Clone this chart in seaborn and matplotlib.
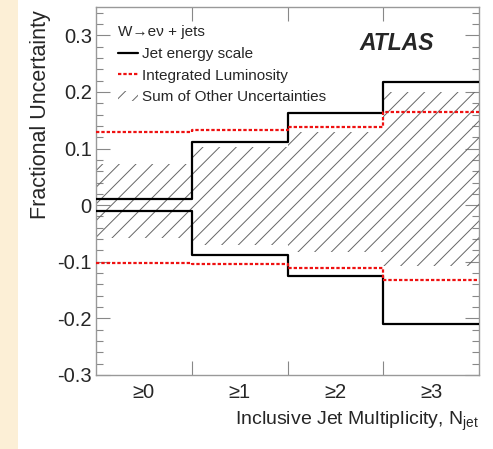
import numpy as np
import pandas as pd
import matplotlib
matplotlib.use("Agg")
import matplotlib.pyplot as plt
import seaborn as sns
from matplotlib.lines import Line2D
from matplotlib.patches import Patch, Rectangle

# ---- data ----
bin_labels = ["≥0", "≥1", "≥2", "≥3"]
bin_edges = [0, 1, 2, 3, 4]
jes_up = [0.010, 0.112, 0.163, 0.218]
jes_down = [-0.011, -0.088, -0.125, -0.210]
lumi_up = [0.129, 0.132, 0.138, 0.165]
lumi_down = [-0.103, -0.104, -0.111, -0.133]
other_up = [0.072, 0.102, 0.130, 0.199]
other_down = [-0.058, -0.070, -0.082, -0.107]

sns.set_theme(style="white")
plt.rcParams["font.family"] = ["Liberation Sans", "DejaVu Sans"]
plt.rcParams["mathtext.fontset"] = "custom"
plt.rcParams["mathtext.rm"] = "Liberation Sans"
plt.rcParams["mathtext.it"] = "Liberation Sans"
plt.rcParams["hatch.linewidth"] = 0.7

fig = plt.figure(figsize=(4.93, 4.49), dpi=100)
fig.patch.set_facecolor("white")
fig.patches.append(Rectangle((0, 0), 18 / 493, 1, transform=fig.transFigure,
                             facecolor="#FCEFD6", edgecolor="none", zorder=0))
ax = fig.add_axes([96 / 493, 1 - 375 / 449, 383 / 493, 368 / 449])
ax.set_facecolor("white")

def ext(v):
    return list(v) + [v[-1]]

# hatched band
ax.fill_between(bin_edges, ext(other_down), ext(other_up), step="post",
                facecolor="none", edgecolor="#666666", hatch="//", linewidth=0, zorder=1)

def step_df(vals, name):
    return pd.DataFrame({"x": bin_edges, "y": ext(vals), "s": name})

for vals in (jes_up, jes_down):
    sns.lineplot(data=step_df(vals, "jes"), x="x", y="y", ax=ax, color="black",
                 linewidth=1.6, drawstyle="steps-post", zorder=3, legend=False)
for vals in (lumi_up, lumi_down):
    sns.lineplot(data=step_df(vals, "lumi"), x="x", y="y", ax=ax, color="#ee1111",
                 linewidth=1.6, linestyle=(0, (1.5, 0.9)), drawstyle="steps-post",
                 zorder=4, legend=False)

ax.set_xlim(0, 4)
ax.set_ylim(-0.3, 0.35)

# ticks
ax.set_xticks([0.5, 1.5, 2.5, 3.5])
ax.set_xticklabels(bin_labels)
ax.set_xticks([1, 2, 3], minor=True)
ax.tick_params(axis="x", which="major", length=0, labelsize=14.5, pad=6)
ax.tick_params(axis="x", which="minor", direction="in", length=10, width=0.8,
               color="#888888", top=True, bottom=True)
ax.set_yticks([-0.3, -0.2, -0.1, 0, 0.1, 0.2, 0.3])
ax.set_yticklabels(["-0.3", "-0.2", "-0.1", "0", "0.1", "0.2", "0.3"])
ax.set_yticks(np.arange(-0.28, 0.35, 0.02), minor=True)
ax.tick_params(axis="y", which="major", direction="in", length=10, width=0.8,
               color="#888888", left=True, right=True, labelsize=14.5, pad=3)
ax.tick_params(axis="y", which="minor", direction="in", length=5, width=0.8,
               color="#888888", left=True, right=True)
for sp in ax.spines.values():
    sp.set_color("#999999")
    sp.set_linewidth(1.0)

ax.set_ylabel("Fractional Uncertainty", fontsize=15.5, loc="top")
ax.yaxis.set_label_coords(-0.118, 0.99)
ax.set_xlabel(r"Inclusive Jet Multiplicity, N$_{\mathrm{jet}}$", fontsize=14, loc="right")
ax.xaxis.set_label_coords(1.0, -0.095)

# legend
handles = [
    Line2D([], [], color="black", linewidth=1.6),
    Line2D([], [], color="#ee1111", linewidth=1.6, linestyle=(0, (1.5, 0.9))),
    Patch(facecolor="none", edgecolor="#666666", hatch="//", linewidth=0),
]
labels = ["Jet energy scale", "Integrated Luminosity", "Sum of Other Uncertainties"]
leg = ax.legend(handles, labels, title="W→eν + jets", loc="upper left",
                bbox_to_anchor=(0.057, 0.95), frameon=False, fontsize=11,
                title_fontsize=11, borderpad=0, borderaxespad=0,
                handlelength=1.3, handletextpad=0.25, labelspacing=0.5,
                alignment="left")
leg.set_zorder(5)

ax.text(0.882, 0.9, "ATLAS", transform=ax.transAxes, ha="right", va="center",
        fontsize=16.5, fontweight="bold", fontstyle="italic")

fig.savefig("out.png", dpi=100, facecolor="white")
